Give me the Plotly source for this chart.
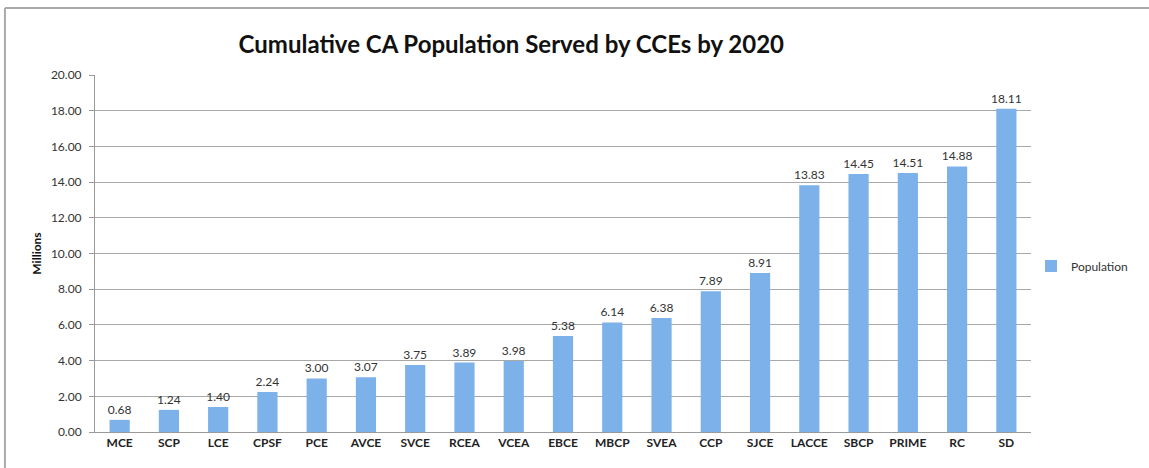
import plotly.graph_objects as go

categories = ["MCE", "SCP", "LCE", "CPSF", "PCE", "AVCE", "SVCE", "RCEA", "VCEA", "EBCE",
              "MBCP", "SVEA", "CCP", "SJCE", "LACCE", "SBCP", "PRIME", "RC", "SD"]
population = [0.68, 1.24, 1.40, 2.24, 3.00, 3.07, 3.75, 3.89, 3.98, 5.38,
              6.14, 6.38, 7.89, 8.91, 13.83, 14.45, 14.51, 14.88, 18.11]
y_ticks = [0, 2, 4, 6, 8, 10, 12, 14, 16, 18, 20]
y_tick_labels = [f"{v:.2f}" for v in y_ticks]

FONT = "Lato, 'Open Sans', sans-serif"

fig = go.Figure()
fig.add_trace(go.Bar(
    x=categories, y=population, name="Population",
    marker=dict(color="#7db1ea", line=dict(width=0)),
    text=[f"{v:.2f}" for v in population], textposition="outside",
    textfont=dict(size=12, color="#333333", family=FONT),
    constraintext="none",
    cliponaxis=False,
))

fig.update_layout(
    width=1149, height=468,
    margin=dict(l=95, r=118, t=75, b=36, autoexpand=False),
    paper_bgcolor="white", plot_bgcolor="white",
    font=dict(family=FONT, color="#333333"),
    title=dict(text="<b>Cumulative CA Population Served by CCEs by 2020</b>",
               x=0.445, xanchor="center", y=0.905, yanchor="middle",
               font=dict(size=24, color="#111111", family=FONT)),
    bargap=0.59,
    showlegend=True,
    legend=dict(x=1.0, xanchor="left", y=0.465, yanchor="middle",
                font=dict(size=12, color="#333333"), itemwidth=30,
                bgcolor="rgba(0,0,0,0)"),
    xaxis=dict(showgrid=False, showline=True, linecolor="#9a9a9a", linewidth=1,
               ticks="", tickfont=dict(size=12, color="#222222", family=FONT),
               tickprefix="<b>", ticksuffix="</b>"),
    yaxis=dict(range=[0, 20], tickvals=y_ticks, ticktext=y_tick_labels,
               showgrid=True, gridcolor="#a8a8a8", gridwidth=1,
               showline=True, linecolor="#9a9a9a", linewidth=1,
               ticks="outside", ticklen=5, tickcolor="#9a9a9a",
               ticklabelstandoff=5,
               tickfont=dict(size=12, color="#333333"),
               title=dict(text="<b>Millions</b>", font=dict(size=12, color="#111111"), standoff=6),
               zeroline=False),
    shapes=[
        dict(type="line", xref="paper", yref="paper", x0=-0.0962, x1=1.2, y0=1.1877, y1=1.1877,
             line=dict(color="#aaaaaa", width=2)),
        dict(type="line", xref="paper", yref="paper", x0=-0.0962, x1=-0.0962, y0=1.1877, y1=-0.2,
             line=dict(color="#aaaaaa", width=2)),
    ],
)

fig.write_html("out.html")
